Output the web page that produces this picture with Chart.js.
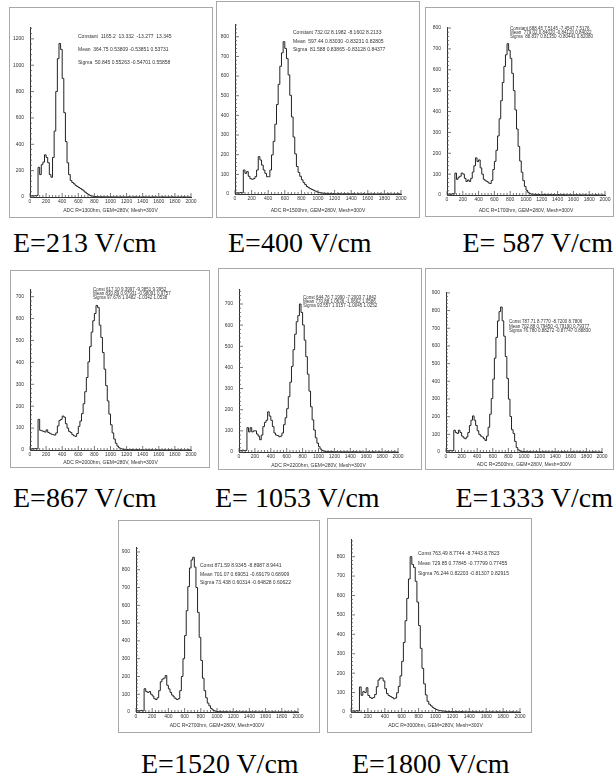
<!DOCTYPE html>
<html><head><meta charset="utf-8">
<script src="https://cdn.jsdelivr.net/npm/chart.js@4.4.0/dist/chart.umd.min.js"></script>
<style>
html,body{margin:0;padding:0;background:#fff;}
body{width:615px;height:778px;position:relative;overflow:hidden;}
.frame{position:absolute;border:1px solid #a8a8a8;box-sizing:border-box;}
canvas{position:absolute;}
.cap{position:absolute;font-family:"Liberation Serif","Times New Roman",serif;font-size:28px;line-height:28px;color:#000;white-space:pre;}
</style></head><body>
<script>
// ---------- DATA ----------
const binLeftEdges = [
0,20,40,60,80,100,120,140,160,180,200,220,240,260,280,300,320,340,360,380,
400,420,440,460,480,500,520,540,560,580,600,620,640,660,680,700,720,740,760,780,
800,820,840,860,880,900,920,940,960,980,1000,1020,1040,1060,1080,1100,1120,1140,1160,1180,
1200,1220,1240,1260,1280,1300,1320,1340,1360,1380,1400,1420,1440,1460,1480,1500,1520,1540,1560,1580,
1600,1620,1640,1660,1680,1700,1720,1740,1760,1780,1800,1820,1840,1860,1880,1900,1920,1940,1960,1980];
const adcUpperEdge = 2000;

const countsE213 = [
8,10,8,10,12,225,170,245,265,320,300,260,170,150,300,500,800,1050,1165,1120,
900,640,420,260,170,125,110,100,88,80,72,64,56,46,36,26,18,12,8,5,
3,2,2,1,2,1,1,0,1,0,1,0,0,1,0,0,1,0,0,0,
0,1,0,0,0,1,0,0,0,0,1,0,0,0,0,0,1,0,0,0,
0,0,1,0,0,0,0,0,1,0,0,0,0,0,0,1,0,0,0,0];
const countsE400 = [
5,6,5,7,6,122,105,114,90,78,75,78,88,122,190,173,147,122,105,88,
88,122,199,268,355,455,558,650,718,775,741,689,606,502,392,290,204,140,110,90,
72,58,48,38,32,27,23,19,15,11,8,6,5,4,3,3,2,2,1,2,
1,1,2,1,0,1,1,0,1,0,1,1,0,0,1,0,0,1,0,0,
1,0,0,1,0,0,0,1,0,0,0,0,1,0,0,0,0,0,1,0];
const countsE587 = [
4,5,3,6,5,105,75,85,90,105,100,80,65,72,65,80,110,140,178,160,
168,130,100,75,68,65,58,55,70,122,161,214,283,365,452,539,616,672,725,693,
655,583,500,408,316,233,163,109,69,41,23,13,7,4,4,3,3,2,2,1,
2,3,2,1,2,2,1,2,1,1,2,1,1,2,1,1,0,1,1,0,
1,0,1,0,1,0,0,1,0,0,1,0,0,0,1,0,0,0,0,0];
const countsE867 = [
4,6,5,7,5,140,90,88,85,82,92,80,76,72,70,68,78,110,135,140,
155,150,120,100,85,80,70,65,62,75,108,132,166,211,266,331,402,472,538,590,
623,660,650,570,514,445,369,294,224,164,115,78,50,31,18,10,6,4,3,3,
2,2,1,2,1,1,2,1,0,1,1,0,1,1,0,1,0,0,1,0,
1,0,0,1,0,0,1,0,0,0,1,0,0,1,0,0,0,0,1,0];
const countsE1053 = [
8,7,9,6,8,115,95,115,95,100,100,85,75,58,80,120,140,150,190,170,
150,120,90,80,78,72,75,90,129,162,205,262,330,405,484,557,616,645,700,660,
601,529,451,368,288,214,152,104,67,42,25,14,7,4,3,2,2,1,2,1,
1,1,0,1,1,0,1,0,1,0,0,1,0,1,0,0,1,0,0,0,
0,1,0,0,1,0,0,0,1,0,0,0,0,1,0,0,0,1,0,0];
const countsE1333 = [
8,6,9,7,8,123,110,105,123,110,90,80,75,85,110,150,180,204,180,150,
120,100,90,85,75,65,90,140,214,302,412,531,648,741,794,820,742,655,540,416,
299,201,126,105,60,25,12,6,4,3,2,2,1,2,1,1,0,1,1,0,
1,0,1,1,0,1,0,0,1,0,1,0,0,0,1,0,1,0,0,0,
0,1,0,0,0,1,0,0,0,1,0,0,0,0,1,0,0,0,0,0];
const countsE1520 = [
8,6,7,9,6,131,115,110,115,100,90,75,70,80,120,170,185,190,205,150,
130,110,95,85,75,70,75,120,200,300,430,570,705,810,855,870,815,700,560,420,
290,190,120,80,50,35,20,12,7,4,3,2,2,1,1,2,1,0,1,1,
0,1,1,0,0,1,0,1,0,0,1,0,0,1,0,0,0,1,0,0,
1,0,0,0,1,0,0,0,0,1,0,0,1,0,0,0,0,0,1,0];
const countsE1800 = [
5,6,4,7,5,129,86,105,100,125,85,75,70,75,90,130,165,175,175,160,
120,95,85,80,75,68,72,99,132,186,261,358,470,585,685,800,760,745,673,566,
445,328,225,145,88,55,40,32,24,18,13,10,8,6,5,4,3,3,2,2,
2,1,2,1,1,2,1,1,0,1,1,0,1,0,1,0,0,1,0,0,
1,0,0,1,0,0,1,0,0,0,1,0,0,0,0,1,0,0,0,0];

const fieldLabels = ["E=213 V/cm","E=400 V/cm","E= 587 V/cm","E=867 V/cm","E= 1053 V/cm","E=1333 V/cm","E=1520 V/cm","E=1800 V/cm"];
const xAxisTitles = [
"ADC R=1300hm, GEM=280V, Mesh=300V","ADC R=1500hm, GEM=280V, Mesh=300V","ADC R=1700hm, GEM=280V, Mesh=300V",
"ADC R=2000hm, GEM=280V, Mesh=300V","ADC R=2200hm, GEM=280V, Mesh=300V","ADC R=2500hm, GEM=280V, Mesh=300V",
"ADC R=2700hm, GEM=280V, Mesh=300V","ADC R=3000hm, GEM=280V, Mesh=300V"];
const fitStats = [
["Constant  1165.2  13.332  -13.277  13.345","Mean  364.75 0.53809 -0.53851 0.53731","Sigma  50.845 0.55263 -0.54701 0.55858"],
["Constant 732.02 8.1982 -8.1602 8.2133","Mean  597.44 0.83030 -0.83231 0.82805","Sigma  81.588 0.83865 -0.83128 0.84377"],
["Constant 688.45 7.5145 -7.4547 7.5176","Mean  779.02 0.84020 -0.84120 0.84022","Sigma  88.837 0.81350 -0.80441 0.82080"],
["Const 617.10 9.3997 -9.3851 9.3952","Mean 830.89 0.97931 -0.98091 0.9757","Sigma 97.678 1.0482 -1.0342 1.0538"],
["Const 644.76 7.1990 -7.2003 7.1842","Mean 770.88 1.0636 -1.0662 1.0586","Sigma 93.557 1.0157 -1.0045 1.0252"],
["Const 787.71 8.7770 -8.7200 8.7806","Mean 702.88 0.79450 -0.79190 0.79377","Sigma 76.780 0.88272 -0.87747 0.88830"],
["Const 871.59 8.9345 -8.8987 8.9441","Mean 701.07 0.69051 -0.69179 0.68909","Sigma 73.438 0.60314 -0.64828 0.60622"],
["Const 763.49 8.7744 -8.7443 8.7823","Mean 729.85 0.77845 -0.77799 0.77455","Sigma 76.244 0.82203 -0.81307 0.82915"]];
const seriesList = [countsE213,countsE400,countsE587,countsE867,countsE1053,countsE1333,countsE1520,countsE1800];
const yAxisMax = [1290,865,805,735,771,905,928,891];
const yLabelSteps = [200,100,100,100,100,100,100,100];
const yMinorSteps = [40,20,20,20,20,20,20,20];

// ---------- LAYOUT (positions / styles) ----------
const layouts = [
 {frame:[9,7,213,218],   plot:[30,27,191,197],  titleDy:14, sDx:48, sDy:10, sGap:13,  sFont:5},
 {frame:[216,1,420,218], plot:[235,24,401,194], titleDy:17, sDx:58, sDy:9,  sGap:8.5, sFont:5},
 {frame:[425,7,614,217], plot:[447,27,605,195], titleDy:16, sDx:63, sDy:2,  sGap:4,   sFont:4.5},
 {frame:[10,270,210,468],plot:[30,289,191,450], titleDy:13, sDx:63, sDy:1,  sGap:3.7, sFont:4.5},
 {frame:[218,268,422,470],plot:[239,289,398,452],titleDy:14, sDx:64, sDy:9,  sGap:4,   sFont:4.5},
 {frame:[425,268,614,470],plot:[446,292,602,452],titleDy:13, sDx:63, sDy:30, sGap:4.5, sFont:4.5},
 {frame:[118,520,320,733],plot:[136,547,298,712],titleDy:14, sDx:64, sDy:19, sGap:8.3, sFont:5},
 {frame:[327,518,532,733],plot:[351,539,520,712],titleDy:14, sDx:67, sDy:15, sGap:10,  sFont:5}
];
const captions = [
 {i:0,left:13,top:229},{i:1,left:228,top:229},{i:2,right:2,top:229},
 {i:3,left:13,top:484},{i:4,left:215,top:484},{i:5,right:2,top:484},
 {i:6,left:141,top:750},{i:7,left:352,top:750}
];

const SANS = '"Liberation Sans", Arial, sans-serif';
const rootDecor = {
  id:'rootDecor',
  afterDraw(chart){
    const o = chart.options.plugins.rootDecor;
    const {ctx, chartArea:a} = chart;
    const xs = chart.scales.x, ys = chart.scales.y;
    ctx.save();
    ctx.strokeStyle = '#555'; ctx.lineWidth = 0.8;
    ctx.beginPath();
    xs.ticks.forEach(t => {
      const px = xs.getPixelForValue(t.value);
      const len = (t.value % 200 === 0) ? 4 : 2;
      ctx.moveTo(px, a.bottom); ctx.lineTo(px, a.bottom - len);
    });
    ys.ticks.forEach(t => {
      const py = ys.getPixelForValue(t.value);
      const len = (t.value % o.yLabelStep === 0) ? 4 : 2;
      ctx.moveTo(a.left, py); ctx.lineTo(a.left + len, py);
    });
    ctx.stroke();
    ctx.fillStyle = '#333';
    ctx.font = '5px ' + SANS;
    ctx.textAlign = 'center'; ctx.textBaseline = 'middle';
    ctx.fillText(o.title, (a.left + a.right) / 2, a.bottom + o.titleDy);
    ctx.textAlign = 'left';
    ctx.font = o.sFont + 'px ' + SANS;
    o.stats.forEach((s, k) => ctx.fillText(s, a.left + o.sDx, a.top + o.sDy + k * o.sGap));
    ctx.restore();
  }
};

layouts.forEach((L, i) => {
  const [fl, ft, fr, fb] = L.frame;
  const [pl, pt, pr, pb] = L.plot;
  const fdiv = document.createElement('div');
  fdiv.className = 'frame';
  Object.assign(fdiv.style, {left: fl + 'px', top: ft + 'px', width: (fr - fl) + 'px', height: (fb - ft) + 'px'});
  document.body.appendChild(fdiv);
  const cv = document.createElement('canvas');
  cv.width = fr - fl; cv.height = fb - ft;
  Object.assign(cv.style, {left: fl + 'px', top: ft + 'px', width: (fr - fl) + 'px', height: (fb - ft) + 'px'});
  document.body.appendChild(cv);

  const counts = seriesList[i];
  const pts = binLeftEdges.map((e, k) => ({x: e, y: counts[k]}));
  pts.push({x: adcUpperEdge, y: counts[counts.length - 1]});
  const yStep = yLabelSteps[i];

  new Chart(cv, {
    type: 'line',
    data: {datasets: [{data: pts, stepped: true, borderColor: '#222', borderWidth: 1, pointRadius: 0, fill: false, tension: 0}]},
    options: {
      responsive: false, animation: false, devicePixelRatio: 1,
      layout: {padding: {left: 0, top: pt - ft, right: fr - pr, bottom: 0}},
      plugins: {legend: {display: false}, tooltip: {enabled: false},
        rootDecor: {title: xAxisTitles[i], stats: fitStats[i], yLabelStep: yStep, titleDy: L.titleDy, sDx: L.sDx, sDy: L.sDy, sGap: L.sGap, sFont: L.sFont}},
      scales: {
        x: {type: 'linear', min: 0, max: adcUpperEdge,
          afterFit: s => { s.height = fb - pb; },
          grid: {display: false, drawTicks: false, tickLength: 0},
          border: {display: true, color: '#333', width: 1},
          ticks: {stepSize: 40, autoSkip: false, maxRotation: 0, includeBounds: false, padding: 2, color: '#333',
            font: {size: 5, family: SANS}, callback: v => (v % 200 === 0 ? String(v) : '')}},
        y: {type: 'linear', min: 0, max: yAxisMax[i],
          afterFit: s => { s.width = pl - fl; },
          grid: {display: false, drawTicks: false, tickLength: 0},
          border: {display: true, color: '#333', width: 1},
          ticks: {stepSize: yMinorSteps[i], autoSkip: false, includeBounds: false, padding: 6, color: '#333',
            font: {size: 5, family: SANS}, callback: v => (v % yStep === 0 ? String(v) : '')}}
      }
    },
    plugins: [rootDecor]
  });
});

captions.forEach(c => {
  const d = document.createElement('div');
  d.className = 'cap';
  d.textContent = fieldLabels[c.i];
  d.style.top = c.top + 'px';
  if (c.right !== undefined) d.style.right = c.right + 'px'; else d.style.left = c.left + 'px';
  document.body.appendChild(d);
});
</script>
</body></html>
